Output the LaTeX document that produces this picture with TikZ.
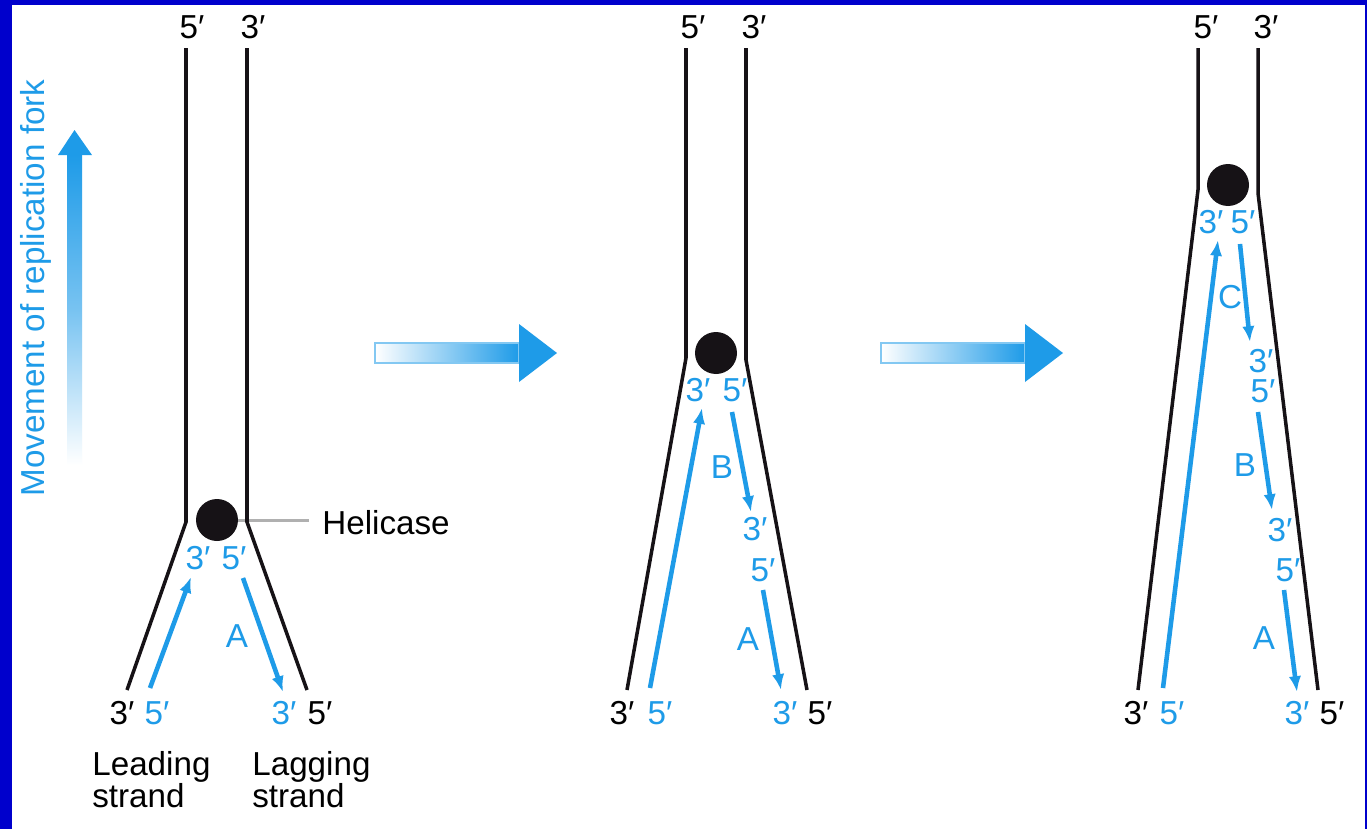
\documentclass[tikz,border=0pt]{standalone}
\usepackage{fontspec}
\setmainfont{Liberation Sans}
\usetikzlibrary{arrows.meta}
\definecolor{frameblue}{HTML}{0000CC}
\definecolor{dnablue}{HTML}{1E9BE8}
\definecolor{strandblk}{HTML}{161216}
\definecolor{pointer}{HTML}{B0B0B0}

\begin{document}
\begin{tikzpicture}[x=0.02cm, y=-0.02cm,
  lbl/.style={font=\fontsize{18.9}{18.1}\selectfont, inner sep=0pt},
  blk/.style={lbl, text=black},
  blu/.style={lbl, text=dnablue},
  strand/.style={draw=strandblk, line width=2pt, line join=miter},
  newdna/.style={draw=dnablue, line width=2.6pt, -{Latex[length=9pt,width=7pt]}},
  helicase/.style={circle, fill=strandblk, inner sep=0pt, minimum size=0.84cm},
  stepbody/.style={left color=white, right color=dnablue, draw=dnablue!55, line width=0.8pt},
  stephead/.style={fill=dnablue}
]
% canvas and frame
\useasboundingbox (0,0) rectangle (1367,829);
\fill[frameblue] (0,0) rectangle (1367,829);
\fill[white] (12,5) rectangle (1365,829);

% direction of fork movement
\shade[top color=dnablue, bottom color=white, middle color=dnablue!60] (67,155) rectangle (82,465);
\fill[dnablue] (58,155) -- (74.5,130) -- (92,155) -- cycle;
\node[blu, rotate=90, anchor=base] (mv) at (45,288) {Movement of replication fork};

% arrows between the stages
\shade[stepbody] (375,343) rectangle (519,363);
\fill[stephead] (519,324) -- (557,353) -- (519,382) -- cycle;
\shade[stepbody] (881,343) rectangle (1025,363);
\fill[stephead] (1025,324) -- (1063,353) -- (1025,382) -- cycle;

% ---------- stage 1 ----------
\coordinate (a1t) at (186,48);  \coordinate (a1k) at (186,522); \coordinate (a1b) at (127,690);
\coordinate (b1t) at (247,48);  \coordinate (b1k) at (247,522); \coordinate (b1b) at (307,690);
\node[helicase] (h1) at (217,520) {};
\coordinate (hl1) at (309,520);
\draw[pointer, line width=1.7pt] (h1.east) -- (hl1);
\node[lbl, anchor=base west] (hname) at (322,534) {Helicase};
\draw[strand] (a1t) -- (a1k) -- (a1b);
\draw[strand] (b1t) -- (b1k) -- (b1b);
\node[blk] (t15) at (192,27) {5′};
\node[blk] (t13) at (253,27) {3′};
\node[blu] (f13) at (198,558) {3′};
\node[blu] (f15) at (234,558) {5′};
\node[blu] (lA1) at (237,636) {A};
\node[blk] (e13) at (122,713) {3′};
\node[blu] (e15) at (157,713) {5′};
\node[blu] (g13) at (284,713) {3′};
\node[blk] (g15) at (320,713) {5′};
\coordinate (l1s) at (150,688); \coordinate (l1e) at (191,577);
\coordinate (A1s) at (243,578); \coordinate (A1e) at (283,692);
\draw[newdna] (l1s) -- (l1e);
\draw[newdna] (A1s) -- (A1e);
\node[lbl, align=left, anchor=north west] (lead) at (92,751) {Leading\\strand};
\node[lbl, align=left, anchor=north west] (lag) at (252,751) {Lagging\\strand};

% ---------- stage 2 ----------
\coordinate (a2t) at (686,48);  \coordinate (a2k) at (686,358); \coordinate (a2b) at (627,690);
\coordinate (b2t) at (746,48);  \coordinate (b2k) at (746,360); \coordinate (b2b) at (807,690);
\node[helicase] (h2) at (716,353) {};
\draw[strand] (a2t) -- (a2k) -- (a2b);
\draw[strand] (b2t) -- (b2k) -- (b2b);
\node[blk] (t25) at (693,27) {5′};
\node[blk] (t23) at (754,27) {3′};
\node[blu] (f23) at (698,390) {3′};
\node[blu] (f25) at (735,390) {5′};
\node[blu] (lB2) at (722,467) {B};
\node[blu] (m23) at (755,529) {3′};
\node[blu] (m25) at (763,570) {5′};
\node[blu] (lA2) at (748,639) {A};
\node[blk] (e23) at (622,713) {3′};
\node[blu] (e25) at (660,713) {5′};
\node[blu] (g23) at (785,713) {3′};
\node[blk] (g25) at (820,713) {5′};
\coordinate (l2s) at (650,688); \coordinate (l2e) at (702,408);
\coordinate (B2s) at (732,412); \coordinate (B2e) at (751,512);
\coordinate (A2s) at (763,590); \coordinate (A2e) at (781,690);
\draw[newdna] (l2s) -- (l2e);
\draw[newdna] (B2s) -- (B2e);
\draw[newdna] (A2s) -- (A2e);

% ---------- stage 3 ----------
\coordinate (a3t) at (1198,48); \coordinate (a3k) at (1198,190); \coordinate (a3b) at (1138,690);
\coordinate (b3t) at (1258,48); \coordinate (b3k) at (1258,193); \coordinate (b3b) at (1318,690);
\node[helicase] (h3) at (1228,185) {};
\draw[strand] (a3t) -- (a3k) -- (a3b);
\draw[strand] (b3t) -- (b3k) -- (b3b);
\node[blk] (t35) at (1206,27) {5′};
\node[blk] (t33) at (1266,27) {3′};
\node[blu] (f33) at (1211,222) {3′};
\node[blu] (f35) at (1243,222) {5′};
\node[blu] (lC3) at (1230,297) {C};
\node[blu] (n33) at (1261,361) {3′};
\node[blu] (n35) at (1263,391) {5′};
\node[blu] (lB3) at (1245,465) {B};
\node[blu] (m33) at (1280,530) {3′};
\node[blu] (m35) at (1288,570) {5′};
\node[blu] (lA3) at (1264,638) {A};
\node[blk] (e33) at (1136,713) {3′};
\node[blu] (e35) at (1172,713) {5′};
\node[blu] (g33) at (1297,713) {3′};
\node[blk] (g35) at (1332,713) {5′};
\coordinate (l3s) at (1163,688); \coordinate (l3e) at (1218,240);
\coordinate (C3s) at (1240,244); \coordinate (C3e) at (1250,342);
\coordinate (B3s) at (1258,412); \coordinate (B3e) at (1272,510);
\coordinate (A3s) at (1284,590); \coordinate (A3e) at (1297,692);
\draw[newdna] (l3s) -- (l3e);
\draw[newdna] (C3s) -- (C3e);
\draw[newdna] (B3s) -- (B3e);
\draw[newdna] (A3s) -- (A3e);
\end{tikzpicture}
\end{document}
